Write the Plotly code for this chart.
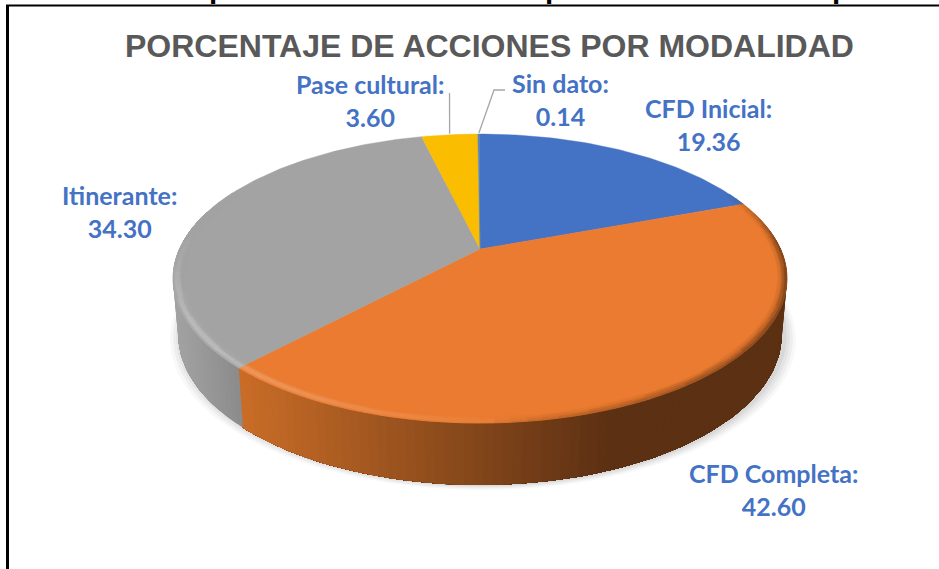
import numpy as np
import plotly.graph_objects as go

categories = ["CFD Inicial", "CFD Completa", "Itinerante", "Pase cultural", "Sin dato"]
values = [19.36, 42.60, 34.30, 3.60, 0.14]
title_text = "PORCENTAJE DE ACCIONES POR MODALIDAD"
cut_text = "Situación porcentual de acciones por modalidad de capacitación"

colors = ["#4472C4", "#EA7B30", "#A3A3A3", "#FBBD00", "#5B86B8"]
wall_near = [(0x4a, 0x6f, 0xb0), (0xc8, 0x6c, 0x27), (0x8a, 0x8a, 0x8a), (0xd0, 0x9a, 0x00), (0x40, 0x60, 0x90)]
wall_far = [(0x20, 0x38, 0x60), (0x5c, 0x30, 0x13), (0xa2, 0xa2, 0xa2), (0xa0, 0x78, 0x00), (0x30, 0x48, 0x70)]
wall_span = [(243, 610), (243, 610), (243, 175), (243, 610), (243, 610)]
label_pos = [(708, 124), (773, 489), (119, 211), (370, 100), (560, 99)]
leader_ends = {3: [(449.5, 93)], 4: [(494, 90), (505, 90)]}

CX, CY, TOP, BOTTOM = 480.0, 249.0, 134.0, 423.0
k = (TOP + BOTTOM - 2 * CY) / (BOTTOM - TOP)
b = TOP + TOP * k - CY
f = 307.0 * np.sqrt(1 - k * k)


def project(theta, rho=1.0):
    c, s = rho * np.cos(theta), rho * np.sin(theta)
    w = 1 + k * c
    return CX + f * s / w, (CY + b * c) / w


def project_low(theta):
    x, y = project(theta)
    frac = (y - TOP) / (BOTTOM - TOP)
    return CX + (x - CX) * 0.983, y + 50 + 12 * frac


def mix(a, c, t):
    t = float(np.clip(t, 0, 1))
    return tuple(a[i] + (c[i] - a[i]) * t for i in range(3))


def rgb(a):
    return "rgb(%d,%d,%d)" % tuple(round(v) for v in a)


def hex2(h):
    return tuple(int(h[i:i + 2], 16) for i in (1, 3, 5))


fig = go.Figure()


def poly(xs, ys, color, lw=0.8):
    fig.add_trace(go.Scatter(x=list(xs), y=list(ys), mode="lines", fill="toself", fillcolor=color,
                             line=dict(color=color, width=lw), hoverinfo="skip", showlegend=False))


# soft shadow below the pie
full = np.linspace(0, 2 * np.pi, 181)
for grow, alpha in [(11, .05), (8, .07), (5, .08), (2, .10)]:
    pts = [project_low(t) for t in full]
    poly([CX + (p[0] - CX) * (1 + grow / 300) + 3 for p in pts], [p[1] + grow * .45 for p in pts],
         "rgba(120,120,120,%.2f)" % alpha, 0)

# slice limits
edges = np.cumsum([0] + values) / sum(values) * 2 * np.pi

# side wall: painted in overlapping steps, so that no seams show between colours
for i, v in enumerate(values):
    a0, a1 = edges[i], edges[i + 1]
    n = max(2, int((a1 - a0) / np.radians(1.5)))
    ts = np.linspace(a0, a1, n + 1)
    ts = ts[np.cos(ts) < 0.3] if (np.cos(ts) < 0.3).sum() >= 2 else ts[:0]
    if len(ts) < 2:
        continue
    x0, x1 = wall_span[i]
    for j in range(len(ts) - 1):
        tail = ts[j:]
        xm = project((ts[j] + ts[j + 1]) / 2)[0]
        col = mix(wall_near[i], wall_far[i], (xm - x0) / (x1 - x0))
        up = [project(t) for t in tail]
        low = [project_low(t) for t in tail[::-1]]
        ring = up + low + up[:1]
        poly([p[0] for p in ring], [p[1] for p in ring], rgb(col), 0)

# top face
for i, v in enumerate(values):
    ts = np.linspace(edges[i], edges[i + 1], max(3, int((edges[i + 1] - edges[i]) / np.radians(1)) + 1))
    pts = [project(t) for t in ts]
    poly([CX] + [p[0] for p in pts] + [CX], [CY] + [p[1] for p in pts] + [CY], colors[i], 0.4)

# bevel at the rim of the top face
rings = np.linspace(1.0, 0.965, 6)
for i, v in enumerate(values):
    a0, a1 = edges[i], edges[i + 1]
    n = max(2, int((a1 - a0) / np.radians(2.5)))
    ts = np.linspace(a0, a1, n + 1)
    base = hex2(colors[i])
    groups = {}
    for t0, t1 in zip(ts[:-1], ts[1:]):
        tm = (t0 + t1) / 2
        c, s = np.cos(tm), np.sin(tm)
        if c > 0.45:
            continue
        fade_dark = np.clip((0.45 - c) / 0.4, 0, 1)
        fade_light = np.clip((0.1 - c) / 0.6, 0, 1)
        for j in range(len(rings) - 1):
            u = j / (len(rings) - 2)
            light = np.clip(-s + 0.15, 0, 1) * np.exp(-((u - 0.35) / 0.35) ** 2) * 0.28 * fade_light
            dark = np.clip(s - 0.02, 0, 1) ** .6 * (1 - u) ** 1.3 * 0.72 * fade_dark
            col = mix(mix(base, (255, 255, 255), light), (0x5c, 0x30, 0x13) if i < 2 else (60, 60, 60), dark)
            col = tuple(round(x / 3) * 3 for x in col)
            p0, p1 = project(t0, rings[j]), project(t1, rings[j])
            q0, q1 = project(t1, rings[j + 1]), project(t0, rings[j + 1])
            g = groups.setdefault(rgb(col), ([], []))
            g[0].extend([p0[0], p1[0], q0[0], q1[0], p0[0], None])
            g[1].extend([p0[1], p1[1], q0[1], q1[1], p0[1], None])
    for col, (xs, ys) in groups.items():
        poly(xs, ys, col, 0.7)

# leader lines
for i, ends in leader_ends.items():
    start = project((edges[i] + edges[i + 1]) / 2)
    fig.add_trace(go.Scatter(x=[start[0]] + [e[0] for e in ends], y=[start[1] - 1] + [e[1] for e in ends],
                             mode="lines", line=dict(color="#A6A6A6", width=1.3),
                             hoverinfo="skip", showlegend=False))

ann = []
for name, v, (lx, ly) in zip(categories, values, label_pos):
    ann.append(dict(x=lx, y=ly, xref="x", yref="y", text=f"<b>{name}:<br>{v:.2f}</b>", showarrow=False,
                    font=dict(family="Lato", size=25, color="#4472C4"), align="center"))
ann.append(dict(x=489, y=45.5, xref="x", yref="y", text=f"<b>{title_text}</b>", showarrow=False,
                font=dict(family="Liberation Sans", size=32, color="#595959")))
# heading of the source page, cut off by the top edge of the picture
ann.append(dict(x=66 / 939, y=1, xref="paper", yref="paper", xanchor="left", yanchor="middle", yshift=12.5,
                text=f"<b>{cut_text}</b>", showarrow=False, align="left", width=1000,
                font=dict(family="Liberation Sans", size=29.5, color="#000000")))

fig.update_layout(
    width=939, height=569, margin=dict(l=0, r=0, t=0, b=0),
    paper_bgcolor="white", plot_bgcolor="white", showlegend=False,
    xaxis=dict(range=[0, 939], visible=False, fixedrange=True),
    yaxis=dict(range=[569, 0], visible=False, fixedrange=True),
    annotations=ann,
    shapes=[
        dict(type="line", xref="x", yref="y", x0=7.5, y0=5.5, x1=7.5, y1=569, line=dict(color="black", width=3)),
        dict(type="line", xref="x", yref="y", x0=6, y0=5.5, x1=939, y1=5.5, line=dict(color="black", width=2)),
    ],
)
fig.write_html("out.html", config=dict(displayModeBar=False),
               post_script="document.body.style.margin='0';document.body.style.overflow='hidden';")
